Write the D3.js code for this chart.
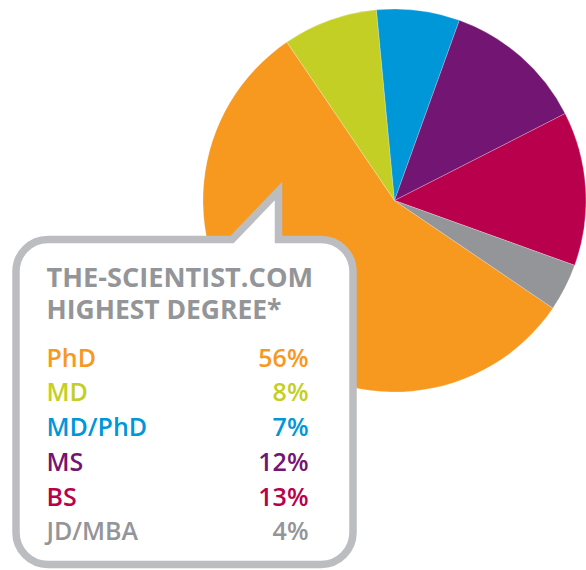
<!DOCTYPE html>
<html><head><meta charset="utf-8">
<script src="https://cdn.jsdelivr.net/npm/d3@7"></script>
<style>html,body{margin:0;padding:0;background:#fff;}svg{display:block;}</style>
</head><body>
<script>
const categories = ["PhD", "MD", "MD/PhD", "MS", "BS", "JD/MBA"];
const values = [56, 8, 7, 12, 13, 4];
const colors = ["#f7981f", "#c3cf24", "#0097d8", "#731572", "#b8004c", "#939598"];
const titleLines = ["THE-SCIENTIST.COM", "HIGHEST DEGREE*"];

const W = 586, H = 570;
const svg = d3.select("body").append("svg").attr("width", W).attr("height", H);

const data = categories.map((c, i) => ({name: c, value: values[i], color: colors[i]}));
const startDeg = 124.2;
const pie = d3.pie().sort(null).value(d => d.value)
  .startAngle(startDeg * Math.PI / 180).endAngle((startDeg + 360) * Math.PI / 180);
const arc = d3.arc().innerRadius(0).outerRadius(191.5);

svg.append("g").attr("transform", "translate(394.5,200.5)")
  .selectAll("path").data(pie(data)).join("path")
  .attr("d", arc).attr("fill", d => d.data.color)
  .attr("stroke", "#fff").attr("stroke-width", 0.4).attr("stroke-opacity", 0.6);

// callout box
const x0 = 16, y0 = 239.5, x1 = 353, y1 = 564.5, r = 32;
const pL = 232, pR = 278.5, pTip = 191;
const p = d3.path();
p.moveTo(x0 + r, y0);
p.lineTo(pL, y0);
p.lineTo(pR, pTip);
p.lineTo(pR, y0);
p.lineTo(x1 - r, y0);
p.arcTo(x1, y0, x1, y0 + r, r);
p.lineTo(x1, y1 - r);
p.arcTo(x1, y1, x1 - r, y1, r);
p.lineTo(x0 + r, y1);
p.arcTo(x0, y1, x0, y1 - r, r);
p.lineTo(x0, y0 + r);
p.arcTo(x0, y0, x0 + r, y0, r);
p.closePath();
svg.append("path").attr("d", p.toString())
  .attr("fill", "#fff").attr("stroke", "#bcbdc0").attr("stroke-width", 7.5)
  .attr("stroke-linejoin", "miter").attr("stroke-miterlimit", 10);

const font = "'Open Sans', 'DejaVu Sans', sans-serif";
const tg = svg.append("g");
const titleWidths = [266.6, 235];
titleLines.forEach((t, i) => {
  tg.append("text").attr("x", 46.5).attr("y", 287.3 + i * 31.7)
    .attr("font-family", font).attr("font-weight", 700).attr("font-size", 26.5)
    .attr("textLength", titleWidths[i]).attr("lengthAdjust", "spacingAndGlyphs")
    .attr("fill", "#939598").text(t);
});

const lg = svg.append("g");
data.forEach((d, i) => {
  const y = 366.7 + i * 34.7;
  lg.append("text").attr("x", 46.5).attr("y", y)
    .attr("font-family", font).attr("font-weight", 600).attr("font-size", 25)
    .attr("fill", d.color).text(d.name);
  lg.append("text").attr("x", 308.5).attr("y", y).attr("text-anchor", "end")
    .attr("font-family", font).attr("font-weight", 600).attr("font-size", 25)
    .attr("fill", d.color).text(d.value + "%");
});
</script>
</body></html>
